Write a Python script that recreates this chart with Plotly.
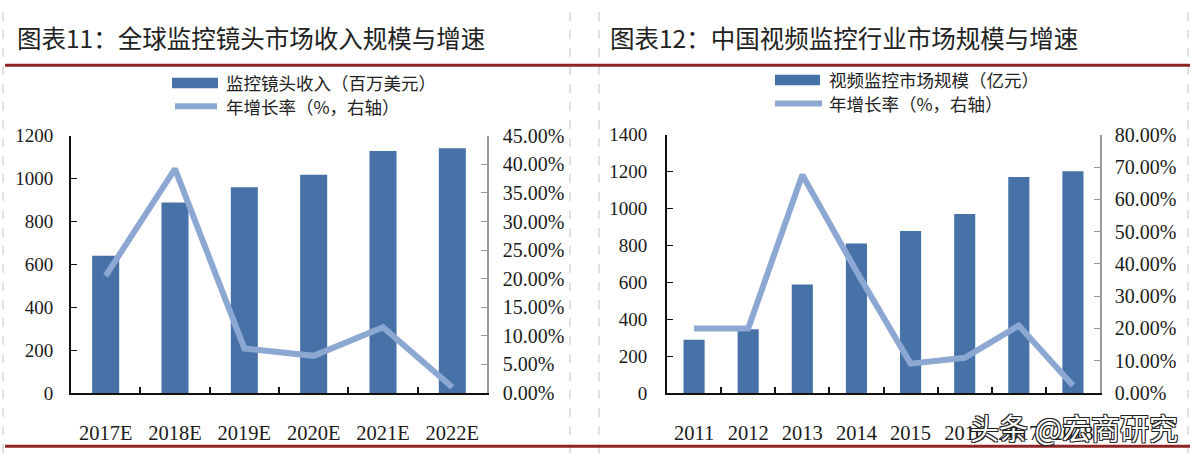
import plotly.graph_objects as go

W, H = 1192, 464

# ---- data ----
left_title = "图表11：全球监控镜头市场收入规模与增速"
right_title = "图表12：中国视频监控行业市场规模与增速"

left_categories = ["2017E", "2018E", "2019E", "2020E", "2021E", "2022E"]
left_revenue = [640, 889, 960, 1018, 1129, 1142]
left_growth = [0.205, 0.392, 0.078, 0.065, 0.115, 0.010]
left_bar_name = "监控镜头收入（百万美元）"
left_line_name = "年增长率（%，右轴）"

right_categories = ["2011", "2012", "2013", "2014", "2015", "2016", "2017", "2018"]
right_market = [289, 346, 589, 811, 878, 971, 1172, 1203]
right_growth = [0.200, 0.200, 0.676, 0.377, 0.091, 0.109, 0.209, 0.023]
right_bar_name = "视频监控市场规模（亿元）"
right_line_name = "年增长率（%，右轴）"

watermark = "头条 @宏商研究"

# ---- style ----
BAR = "#4672A8"
LINE = "#8DA7D3"
RED = "#8E2424"
SERIF = "Liberation Serif, Times New Roman, serif"
CJK = "Noto Sans CJK SC"

def px(x):
    return x / W

def py(y):
    return 1 - y / H

fig = go.Figure()
fig.add_trace(go.Bar(x=left_categories, y=left_revenue, xaxis="x", yaxis="y",
                     marker=dict(color=BAR, line=dict(width=0)), width=0.39,
                     name=left_bar_name, showlegend=False))
fig.add_trace(go.Scatter(x=left_categories, y=left_growth, xaxis="x", yaxis="y2",
                         mode="lines", line=dict(color=LINE, width=6),
                         name=left_line_name, showlegend=False))
fig.add_trace(go.Bar(x=right_categories, y=right_market, xaxis="x2", yaxis="y3",
                     marker=dict(color=BAR, line=dict(width=0)), width=0.39,
                     name=right_bar_name, showlegend=False))
fig.add_trace(go.Scatter(x=right_categories, y=right_growth, xaxis="x2", yaxis="y4",
                         mode="lines", line=dict(color=LINE, width=6),
                         name=right_line_name, showlegend=False))

yfont = dict(family=SERIF, size=19, color="#1a1a1a")
pfont = dict(family=SERIF, size=20, color="#1a1a1a")
xfont = dict(family=SERIF, size=20.5, color="#1a1a1a")
ydom = [py(401), py(131)]
ydom_r = [py(401), py(130)]

common_x = dict(type="category", showline=True, linecolor="#111", linewidth=2,
                ticks="inside", tickson="boundaries", ticklen=6, tickcolor="#111",
                tickwidth=1.5, showgrid=False, zeroline=False, tickfont=xfont,
                ticklabelstandoff=20, fixedrange=True)

fig.update_layout(
    width=W, height=H, autosize=False,
    margin=dict(l=0, r=0, t=0, b=0),
    paper_bgcolor="white", plot_bgcolor="white",
    showlegend=False,
    xaxis=dict(common_x, domain=[px(71), px(487)], anchor="y",
               range=[-0.5, len(left_categories) - 0.5]),
    yaxis=dict(domain=ydom, anchor="x", range=[0, 1200], dtick=200,
               showline=True, linecolor="#111", linewidth=2, ticks="inside",
               ticklen=6, tickcolor="#111", showgrid=False, zeroline=False,
               tickfont=yfont, ticklabelstandoff=12),
    yaxis2=dict(domain=ydom, anchor="x", overlaying="y", side="right",
                range=[0, 0.45], dtick=0.05, tickformat=".2%",
                showline=True, linecolor="#9a9a9a", linewidth=1.5, ticks="inside",
                ticklen=6, tickcolor="#9a9a9a", showgrid=False, zeroline=False,
                tickfont=pfont, ticklabelstandoff=10),
    xaxis2=dict(common_x, domain=[px(667), px(1100)], anchor="y3",
                range=[-0.5, len(right_categories) - 0.5]),
    yaxis3=dict(domain=ydom_r, anchor="x2", range=[0, 1400], dtick=200,
                showline=True, linecolor="#111", linewidth=2, ticks="inside",
                ticklen=6, tickcolor="#111", showgrid=False, zeroline=False,
                tickfont=yfont, ticklabelstandoff=14),
    yaxis4=dict(domain=ydom_r, anchor="x2", overlaying="y3", side="right",
                range=[0, 0.8], dtick=0.1, tickformat=".2%",
                showline=True, linecolor="#9a9a9a", linewidth=1.5, ticks="inside",
                ticklen=6, tickcolor="#9a9a9a", showgrid=False, zeroline=False,
                tickfont=pfont, ticklabelstandoff=9),
)

shapes = []
# frame: dashed verticals
for xv in [3, 570, 599, 1188]:
    shapes.append(dict(type="line", xref="paper", yref="paper", x0=px(xv), x1=px(xv),
                       y0=0, y1=1, line=dict(color="#c4c4c4", width=1, dash="dash")))
# red rules
for yv in [57, 457]:
    shapes.append(dict(type="line", xref="paper", yref="paper", x0=px(5), x1=px(1190),
                       y0=py(yv), y1=py(yv), line=dict(color=RED, width=3)))
# legend swatches
shapes.append(dict(type="rect", xref="paper", yref="paper", x0=px(172), x1=px(218),
                   y0=py(81), y1=py(70), fillcolor=BAR, line=dict(width=0)))
shapes.append(dict(type="line", xref="paper", yref="paper", x0=px(175), x1=px(217),
                   y0=py(100), y1=py(100), line=dict(color=LINE, width=6)))
shapes.append(dict(type="rect", xref="paper", yref="paper", x0=px(775), x1=px(820),
                   y0=py(78), y1=py(67), fillcolor=BAR, line=dict(width=0)))
shapes.append(dict(type="line", xref="paper", yref="paper", x0=px(775), x1=px(822),
                   y0=py(97), y1=py(97), line=dict(color=LINE, width=6)))
fig.update_layout(shapes=shapes)

legfont = dict(family=CJK, size=17.5, color="#222")
ann = [
    dict(text=left_title, x=px(15), y=py(28), xanchor="left", yanchor="middle",
         font=dict(family=CJK, size=24.5, color="#222")),
    dict(text=right_title, x=px(608), y=py(28), xanchor="left", yanchor="middle",
         font=dict(family=CJK, size=24.5, color="#222")),
    dict(text=left_bar_name, x=px(224), y=py(75), xanchor="left", yanchor="middle", font=legfont),
    dict(text=left_line_name, x=px(224), y=py(100), xanchor="left", yanchor="middle", font=legfont),
    dict(text=right_bar_name, x=px(827), y=py(72), xanchor="left", yanchor="middle", font=legfont),
    dict(text=right_line_name, x=px(827), y=py(97), xanchor="left", yanchor="middle", font=legfont),
    dict(text=watermark, x=px(1180), y=py(437), xanchor="right", yanchor="middle",
         font=dict(family=CJK, size=29, color="white",
                   shadow="1px 1px 0 #222, -1px -1px 0 #222, 1px -1px 0 #222, -1px 1px 0 #222")),
]
for a in ann:
    a.update(xref="paper", yref="paper", showarrow=False)
fig.update_layout(annotations=ann)

fig.write_html("out.html",
               config={"displayModeBar": False, "responsive": False},
               post_script="document.body.style.margin='0px';document.body.style.overflow='hidden';")
